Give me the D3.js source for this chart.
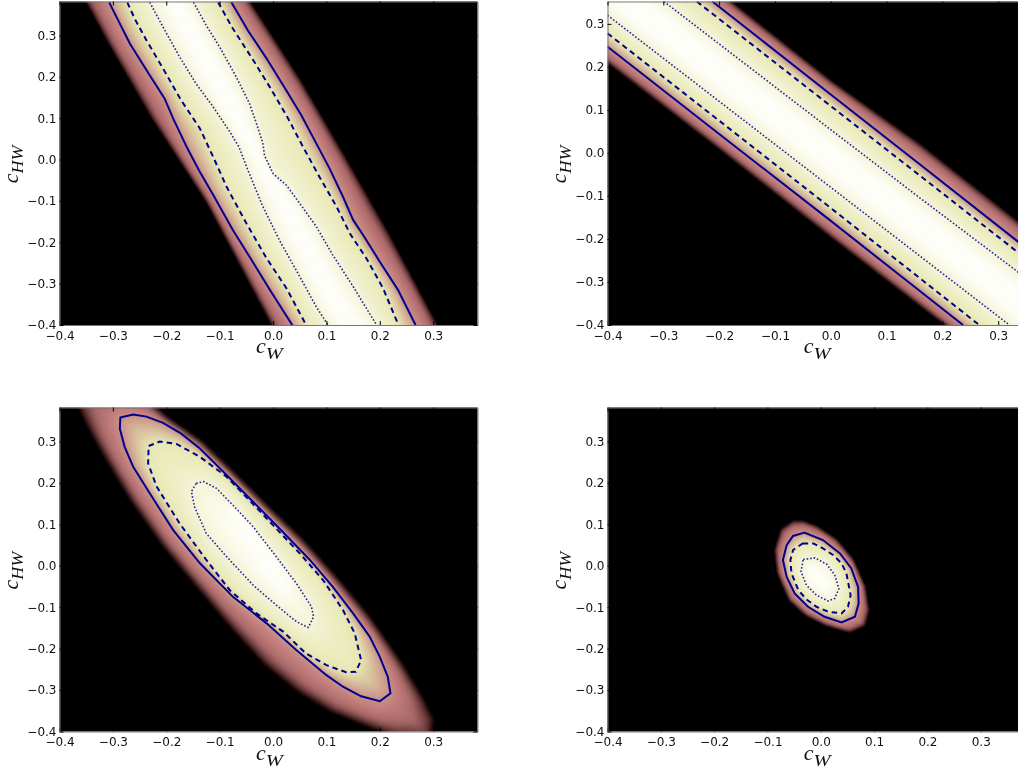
<!DOCTYPE html>
<html><head><meta charset="utf-8">
<script src="https://cdn.jsdelivr.net/npm/d3@7"></script>
<style>
html,body{margin:0;padding:0;background:#fff;overflow:hidden;width:1018px;height:767px}
svg{display:block;filter:blur(0.3px)}
.tick text{font-family:"DejaVu Sans";font-size:12px;fill:#111}
.lab{font-family:"Liberation Serif";font-style:italic;fill:#111}
</style></head><body>
<svg id="c" width="1018" height="767"></svg>
<script>
// tick labels
const tickValues = [-0.4,-0.3,-0.2,-0.1,0.0,0.1,0.2,0.3];

// panel 1 (top left): contours as [c_W, c_HW], two sides of an open band
const p1EdgeA = [[-.348,.38],[-.306,.28],[-.225,.099],[-.125,-.098],[-.001,-.4]];
const p1EdgeB = [[-.044,.38],[.05,.191],[.137,-.002],[.215,-.179],[.306,-.4]];
const p1SolidA = [[-.307,.38],[-.268,.28],[-.231,.2035],[-.203,.147],[-.187,.099],[-.162,.031],[-.137,-.03],[-.112,-.086],[-.075,-.171],[-.044,-.235],[-.006,-.315],[.036,-.4]];
const p1SolidB = [[-.078,.38],[-.047,.312],[-.012,.244],[.025,.167],[.053,.107],[.081,.039],[.106,-.022],[.131,-.09],[.15,-.146],[.169,-.183],[.2,-.247],[.234,-.315],[.267,-.4]];
const p1DashA = [[-.273,.38],[-.259,.34],[-.237,.288],[-.206,.22],[-.172,.143],[-.137,.075],[-.112,.006],[-.087,-.066],[-.05,-.154],[-.012,-.239],[.025,-.311],[.062,-.4]];
const p1DashB = [[-.103,.38],[-.075,.316],[-.037,.24],[-.006,.175],[.025,.107],[.056,.031],[.087,-.042],[.119,-.114],[.144,-.179],[.175,-.239],[.206,-.311],[.235,-.4]];
const p1DotA = [[-.231,.38],[-.206,.32],[-.175,.248],[-.144,.183],[-.112,.127],[-.081,.067],[-.064,.031],[-.047,-.026],[-.019,-.114],[.012,-.195],[.05,-.283],[.081,-.356],[.103,-.4]];
const p1DotB = [[-.149,.38],[-.125,.324],[-.1,.272],[-.069,.2],[-.044,.135],[-.031,.087],[-.019,.039],[-.016,.01],[0,-.034],[.025,-.062],[.05,-.106],[.081,-.162],[.112,-.231],[.15,-.307],[.194,-.4]];
const p1CoreA = [[-.194,.38],[-.137,.24],[-.087,.119],[-.037,.014],[.019,-.13],[.087,-.307],[.131,-.4]];
const p1CoreB = [[-.172,.38],[-.112,.24],[-.069,.135],[-.024,.006],[.037,-.114],[.112,-.307],[.156,-.4]];

// panel 2 (top right)
const p2EdgeA = [[-.181,.352],[0,.166],[.16,.018],[.348,-.175]];
const p2EdgeB = [[-.4,.212],[-.2,.012],[0,-.193],[.207,-.4]];
const p2SolidA = [[-.212,.352],[0,.136],[.16,-.027],[.348,-.219]];
const p2SolidB = [[-.4,.247],[-.2,.044],[0,-.158],[.237,-.4]];
const p2DashA = [[-.24,.352],[0,.109],[.16,-.053],[.348,-.244]];
const p2DashB = [[-.4,.278],[-.2,.075],[0,-.128],[.266,-.4]];
const p2DotA = [[-.299,.352],[0,.054],[.16,-.105],[.348,-.289]];
const p2DotB = [[-.4,.32],[-.2,.12],[0,-.08],[.32,-.4]];
const p2CoreA = [[-.4,.415],[0,.017],[.16,-.143],[.348,-.333]];
const p2CoreB = [[-.4,.36],[0,-.036],[.16,-.196],[.348,-.386]];

// panel 3 (bottom left): closed contours
const p3Edge = [[-.275,.42],[-.37,.41],[-.346,.344],[-.331,.307],[-.3,.239],[-.262,.158],[-.2,.046],[-.137,-.051],[-.075,-.147],[-.012,-.236],[.05,-.3],[.112,-.348],[.175,-.381],[.225,-.405],[.293,-.42],[.297,-.372],[.275,-.316],[.237,-.236],[.175,-.123],[.112,-.027],[.05,.062],[-.012,.138],[-.075,.219],[-.137,.295],[-.2,.352],[-.231,.39]];
const p3Solid = [[-.286,.358],[-.262,.365],[-.237,.36],[-.206,.345],[-.172,.319],[-.137,.283],[-.087,.219],[-.037,.154],[.012,.09],[.069,.014],[.112,-.051],[.15,-.115],[.181,-.171],[.2,-.22],[.215,-.268],[.22,-.308],[.2,-.327],[.165,-.315],[.131,-.292],[.1,-.264],[.044,-.204],[-.012,-.139],[-.075,-.075],[-.137,.006],[-.187,.086],[-.231,.175],[-.262,.239],[-.278,.287],[-.287,.331]];
const p3Dash = [[-.233,.289],[-.212,.3],[-.181,.294],[-.137,.263],[-.087,.215],[-.044,.158],[0,.098],[.05,.03],[.094,-.035],[.131,-.107],[.153,-.163],[.165,-.228],[.155,-.256],[.137,-.257],[.1,-.24],[.062,-.212],[.019,-.159],[-.031,-.115],[-.081,-.059],[-.125,.014],[-.175,.102],[-.218,.191],[-.234,.247]];
const p3Dot = [[-.144,.199],[-.13,.203],[-.106,.187],[-.075,.146],[-.037,.094],[.006,.022],[.044,-.043],[.072,-.099],[.076,-.123],[.066,-.149],[.044,-.135],[.006,-.095],[-.037,-.047],[-.087,.022],[-.125,.078],[-.147,.142],[-.153,.179]];
const p3Core = [[-.075,.142],[-.05,.122],[-.012,.054],[.025,-.027],[.031,-.059],[.012,-.051],[-.025,.014],[-.069,.094],[-.081,.126]];

// panel 4 (bottom right): closed contours
const p4Edge = [[-.052,.106],[-.074,.086],[-.085,.038],[-.08,-.018],[-.058,-.083],[-.027,-.119],[.011,-.143],[.054,-.159],[.082,-.143],[.089,-.107],[.082,-.051],[.06,.014],[.029,.062],[-.008,.094],[-.033,.106]];
const p4Solid = [[-.031,.08],[-.052,.072],[-.064,.05],[-.071,.014],[-.064,-.027],[-.049,-.067],[-.024,-.099],[.007,-.123],[.039,-.137],[.064,-.123],[.071,-.091],[.07,-.051],[.057,-.006],[.036,.03],[.004,.062]];
const p4Dash = [[-.034,.054],[-.014,.054],[.004,.042],[.023,.026],[.039,.006],[.048,-.018],[.056,-.071],[.051,-.099],[.039,-.115],[.014,-.111],[-.008,-.099],[-.027,-.081],[-.042,-.059],[-.055,-.018],[-.057,.014],[-.052,.038]];
const p4Dot = [[-.033,.015],[-.011,.019],[.011,.004],[.026,-.022],[.034,-.055],[.026,-.079],[.014,-.085],[-.008,-.071],[-.027,-.047],[-.037,-.014]];
const p4Core = [[-.017,-.01],[-.001,-.018],[.014,-.043],[.007,-.055],[-.011,-.043],[-.021,-.022]];

const panels = [
  {x:[59.5,477.5], y:[325,1.5],   xMax:.383, yMax:.382, closed:false, soft:1.3,
   bands:[[p1EdgeA,p1EdgeB],[p1SolidA,p1SolidB],[p1DashA,p1DashB],[p1DotA,p1DotB],[p1CoreA,p1CoreB]]},
  {x:[607.5,1025], y:[325,1.5],   xMax:.348, yMax:.352, closed:false, soft:1.3,
   bands:[[p2EdgeA,p2EdgeB],[p2SolidA,p2SolidB],[p2DashA,p2DashB],[p2DotA,p2DotB],[p2CoreA,p2CoreB]]},
  {x:[59.5,477.5], y:[731.5,407.5], xMax:.383, yMax:.382, closed:true, soft:2,
   bands:[[p3Edge],[p3Solid],[p3Dash],[p3Dot],[p3Core]]},
  {x:[607.5,1025], y:[731.5,407.5], xMax:.383, yMax:.382, closed:true, soft:1,
   bands:[[p4Edge],[p4Solid],[p4Dash],[p4Dot],[p4Core]]}
];

// colour at each contour level (edge, solid, dashed, dotted, core)
const colourLevels = [0, .08, .3, .6, 1, 1.45, 2, 3, 3.5, 4];
const colourStops = ["#3a1414","#6a3a3a","#a86868","#be7878","#ca8f88","#d8c09c","#e8e8b4","#f5f5da","#fafaea","#fefef8"];
const colour = d3.scaleLinear().domain(colourLevels).range(colourStops).interpolate(d3.interpolateRgb);
const lut = d3.range(401).map(i => d3.rgb(colour(i/100)));

const lineColour = "#00008b";
const lineStyles = [
  null,
  {w:2, dash:null, op:1},
  {w:2, dash:"5.5,4", op:1},
  {w:1.6, dash:"1.6,1.9", op:.85}
];

const svg = d3.select("#c");
const defs = svg.append("defs");
const margin = 8;

function extendEnd(p, q){
  const dx=q[0]-p[0], dy=q[1]-p[1], l=Math.hypot(dx,dy)||1;
  return [q[0]+dx/l*300, q[1]+dy/l*300];
}
function segDist(px,py,poly){
  let best=1e12;
  for(let i=0,n=poly.length,j=n-1;i<n;j=i++){
    const ax=poly[j][0],ay=poly[j][1],bx=poly[i][0]-ax,by=poly[i][1]-ay;
    let t=((px-ax)*bx+(py-ay)*by)/(bx*bx+by*by||1);
    t=t<0?0:t>1?1:t;
    const dx=px-ax-t*bx,dy=py-ay-t*by,d=dx*dx+dy*dy;
    if(d<best)best=d;
  }
  return Math.sqrt(best);
}

panels.forEach((P,idx)=>{
  const X=d3.scaleLinear().domain([-.4,P.xMax]).range(P.x);
  const Y=d3.scaleLinear().domain([-.4,P.yMax]).range(P.y);
  const W=P.x[1]-P.x[0], H=P.y[0]-P.y[1];
  const toPx=d=>[X(d[0]),Y(d[1])];
  const polys=P.bands.map(b=>{
    if(P.closed) return b[0].map(toPx);
    const a=b[0].map(toPx), c=b[1].map(toPx);
    const ext=l=>[extendEnd(l[1],l[0]),...l,extendEnd(l[l.length-2],l[l.length-1])];
    return [...ext(a),...ext(c).reverse()];
  });
  const cw=Math.ceil(W)+2*margin, ch=Math.ceil(H)+2*margin;
  const ox=P.x[0]-margin, oy=P.y[1]-margin;
  const cv=document.createElement("canvas"); cv.width=cw; cv.height=ch;
  const g=cv.getContext("2d"); const im=g.createImageData(cw,ch);
  for(let j=0;j<ch;j++)for(let i=0;i<cw;i++){
    const px=ox+i+.5, py=oy+j+.5; let k=(j*cw+i)*4;
    let lev=-1;
    for(let l=0;l<polys.length;l++){ if(d3.polygonContains(polys[l],[px,py])) lev=l; else break; }
    let c={r:0,g:0,b:0};
    if(lev>=0){
      let v=4;
      if(lev<4){
        const d0=segDist(px,py,polys[lev]), d1=segDist(px,py,polys[lev+1]);
        v=lev+d0/(d0+d1);
      }
      c=lut[Math.round(v*100)];
    }
    im.data[k]=c.r;im.data[k+1]=c.g;im.data[k+2]=c.b;im.data[k+3]=255;
  }
  g.putImageData(im,0,0);

  const id="clip"+idx;
  defs.append("clipPath").attr("id",id).append("rect")
    .attr("x",P.x[0]).attr("y",P.y[1]).attr("width",W).attr("height",H);
  const gg=svg.append("g");
  defs.append("filter").attr("id","soft"+idx)
    .append("feGaussianBlur").attr("stdDeviation",P.soft);
  gg.append("g").attr("clip-path","url(#"+id+")")
    .append("image").attr("x",ox).attr("y",oy).attr("width",cw).attr("height",ch)
    .attr("href",cv.toDataURL()).attr("filter","url(#soft"+idx+")");

  const line=d3.line().x(d=>X(d[0])).y(d=>Y(d[1]));
  const lg=gg.append("g").attr("clip-path","url(#"+id+")");
  [1,2,3].forEach(l=>{
    const st=lineStyles[l];
    P.bands[l].forEach(arr=>{
      lg.append("path").attr("d",line(arr)+(P.closed?"Z":""))
        .attr("fill","none").attr("stroke",lineColour)
        .attr("stroke-width",st.w).attr("stroke-dasharray",st.dash).attr("stroke-opacity",st.op);
    });
  });

  const ticksX=tickValues.filter(t=>t<=P.xMax), ticksY=tickValues.filter(t=>t<=P.yMax);
  const fmt=d3.format(".1f");
  const style=a=>{a.select(".domain").attr("stroke","#777").attr("stroke-width",1);a.selectAll(".tick line").attr("stroke","#000");};
  gg.append("g").attr("transform",`translate(0,${P.y[0]})`)
    .call(d3.axisBottom(X).tickValues(ticksX).tickFormat(fmt).tickSizeInner(-4).tickSizeOuter(0).tickPadding(6)).call(style)
    .selectAll("text").attr("dy","0.71em");
  gg.append("g").attr("transform",`translate(${P.x[0]},0)`)
    .call(d3.axisLeft(Y).tickValues(ticksY).tickFormat(fmt).tickSizeInner(-4).tickSizeOuter(0).tickPadding(3)).call(style);
  gg.append("g").attr("transform",`translate(0,${P.y[1]})`)
    .call(d3.axisTop(X).tickValues(ticksX).tickFormat("").tickSizeInner(-4).tickSizeOuter(0)).call(style);
  gg.append("g").attr("transform",`translate(${P.x[1]},0)`)
    .call(d3.axisRight(Y).tickValues(ticksY).tickFormat("").tickSizeInner(-4).tickSizeOuter(0)).call(style);

  // axis labels
  const cx=(P.x[0]+P.x[1])/2-12.5;
  const xl=svg.append("text").attr("class","lab").attr("x",cx).attr("y",P.y[0]+28).attr("font-size",22);
  xl.append("tspan").text("c");
  xl.append("tspan").attr("font-size",16).attr("dy",6).attr("textLength",17).attr("lengthAdjust","spacingAndGlyphs").text("W");
  const yMid=(P.y[0]+P.y[1])/2+20;
  const yl=svg.append("text").attr("class","lab").attr("transform",`translate(${P.x[0]-41.5},${yMid}) rotate(-90)`).attr("font-size",22);
  yl.append("tspan").text("c");
  yl.append("tspan").attr("font-size",16).attr("dy",4.5).attr("textLength",28).attr("lengthAdjust","spacingAndGlyphs").text("HW");
});
</script>
</body></html>
